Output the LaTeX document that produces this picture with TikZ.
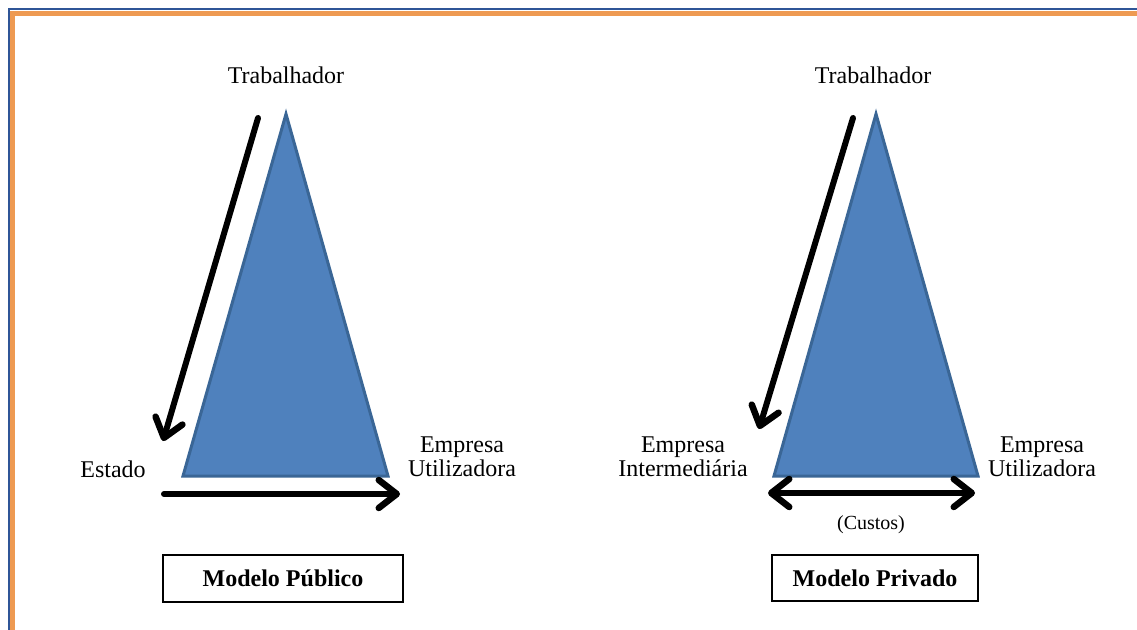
\documentclass[tikz,border=0pt]{standalone}
\usepackage{fontspec}
\setmainfont{Liberation Serif}
\usetikzlibrary{arrows.meta}
\definecolor{triFill}{HTML}{4F81BD}
\definecolor{triEdge}{HTML}{3A6696}
\definecolor{frameOrange}{HTML}{EE9A52}
\definecolor{frameBlue}{HTML}{2F5597}
\begin{document}
\begin{tikzpicture}[x=1pt,y=-1pt,
  lbl/.style={font=\fontsize{24}{24}\selectfont, inner sep=0pt, align=center},
  small/.style={font=\fontsize{20}{22}\selectfont, inner sep=0pt},
  modelbox/.style={draw=black, line width=1.4pt, font=\fontsize{24}{24}\selectfont\bfseries, inner sep=0pt},
  tri/.style={fill=triFill, draw=triEdge, line width=3pt, line join=miter},
  barb/.tip={Straight Barb[round,length=18pt,width=28pt,line width=6.5pt]},
  bigarrow/.style={line width=6pt, line cap=round, -barb},
  dblarrow/.style={line width=6pt, line cap=round, barb-barb}]
\useasboundingbox (0,0) rectangle (1137,629);
% frame
\fill[white] (0,0) rectangle (1137,629);
\draw[frameBlue, line width=2pt] (8.5,8.5) rectangle (1160,650);
\draw[frameOrange, line width=5.5pt] (12.7,13.7) rectangle (1155,645);

% ---- Modelo Publico ----
\draw[tri] (286,114) -- (388,476) -- (183,476) -- cycle;
\node[lbl, anchor=base] (trabL) at (286,83) {Trabalhador};
\node[lbl, anchor=base] (estado) at (113,477) {Estado};
\node[lbl] (empUL) at (462,457) {Empresa\\Utilizadora};
\coordinate (aLs) at (258,118);
\coordinate (aLe) at (163,441);
\draw[bigarrow] (aLs) -- (aLe);
\coordinate (hLs) at (164,494);
\coordinate (hLe) at (400,494);
\draw[bigarrow] (hLs) -- (hLe);
\node[modelbox, minimum width=240, minimum height=47] (mpub) at (283,578.5) {Modelo Público};

% ---- Modelo Privado ----
\draw[tri] (876,114) -- (978,476) -- (774,476) -- cycle;
\node[lbl, anchor=base] (trabR) at (873,83) {Trabalhador};
\node[lbl] (empI) at (683,457) {Empresa\\Intermediária};
\node[lbl] (empUR) at (1042,457) {Empresa\\Utilizadora};
\coordinate (aRs) at (853,118);
\coordinate (aRe) at (759,429);
\draw[bigarrow] (aRs) -- (aRe);
\coordinate (dRs) at (768,493);
\coordinate (dRe) at (975,493);
\draw[dblarrow] (dRs) -- (dRe);
\node[small, anchor=base] (custos) at (871,529) {(Custos)};
\node[modelbox, minimum width=206, minimum height=46] (mpriv) at (875,578) {Modelo Privado};
\end{tikzpicture}
\end{document}
